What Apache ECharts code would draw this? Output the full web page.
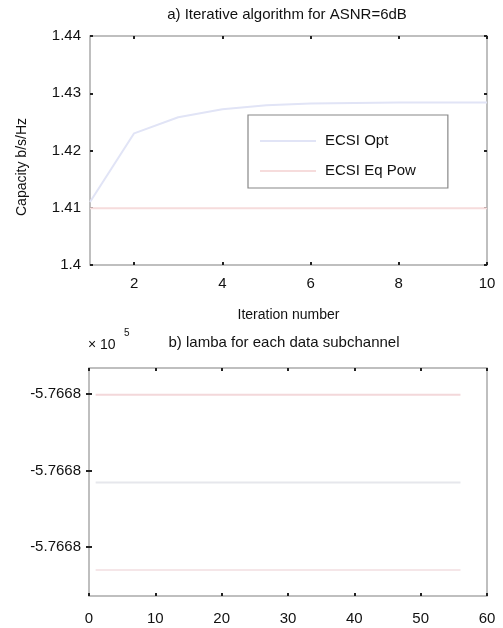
<!DOCTYPE html>
<html>
<head>
<meta charset="utf-8">
<script src="https://cdn.jsdelivr.net/npm/echarts@6/dist/echarts.min.js"></script>
<style>
  html, body { margin: 0; padding: 0; background: #fff; }
  #main { width: 503px; height: 628px; }
</style>
</head>
<body>
<div id="main"></div>
<script>
// a) capacity vs iteration
var iterations = [1, 2, 3, 4, 5, 6, 7, 8, 9, 10];
var capOpt   = [1.4110, 1.4230, 1.4258, 1.4272, 1.4279, 1.4282, 1.4283, 1.4284, 1.4284, 1.4284];
var capEqPow = [1.4099, 1.4099, 1.4099, 1.4099, 1.4099, 1.4099, 1.4099, 1.4099, 1.4099, 1.4099];
var capTicks = [1.40, 1.41, 1.42, 1.43, 1.44];
var iterTicks = [2, 4, 6, 8, 10];

// b) lambda per data subchannel (units of 1e5)
var subchannels = [1,2,3,4,5,6,7,8,9,10,11,12,13,14,15,16,17,18,19,20,21,22,23,24,25,26,27,28,
  29,30,31,32,33,34,35,36,37,38,39,40,41,42,43,44,45,46,47,48,49,50,51,52,53,54,55,56];
var lambdaA = [-5.76679602,-5.76679602,-5.76679602,-5.76679602,-5.76679602,-5.76679602,-5.76679602,-5.76679602,
  -5.76679602,-5.76679602,-5.76679602,-5.76679602,-5.76679602,-5.76679602,-5.76679602,-5.76679602,
  -5.76679602,-5.76679602,-5.76679602,-5.76679602,-5.76679602,-5.76679602,-5.76679602,-5.76679602,
  -5.76679602,-5.76679602,-5.76679602,-5.76679602,-5.76679602,-5.76679602,-5.76679602,-5.76679602,
  -5.76679602,-5.76679602,-5.76679602,-5.76679602,-5.76679602,-5.76679602,-5.76679602,-5.76679602,
  -5.76679602,-5.76679602,-5.76679602,-5.76679602,-5.76679602,-5.76679602,-5.76679602,-5.76679602,
  -5.76679602,-5.76679602,-5.76679602,-5.76679602,-5.76679602,-5.76679602,-5.76679602,-5.76679602];
var lambdaB = [-5.76679831,-5.76679831,-5.76679831,-5.76679831,-5.76679831,-5.76679831,-5.76679831,-5.76679831,
  -5.76679831,-5.76679831,-5.76679831,-5.76679831,-5.76679831,-5.76679831,-5.76679831,-5.76679831,
  -5.76679831,-5.76679831,-5.76679831,-5.76679831,-5.76679831,-5.76679831,-5.76679831,-5.76679831,
  -5.76679831,-5.76679831,-5.76679831,-5.76679831,-5.76679831,-5.76679831,-5.76679831,-5.76679831,
  -5.76679831,-5.76679831,-5.76679831,-5.76679831,-5.76679831,-5.76679831,-5.76679831,-5.76679831,
  -5.76679831,-5.76679831,-5.76679831,-5.76679831,-5.76679831,-5.76679831,-5.76679831,-5.76679831,
  -5.76679831,-5.76679831,-5.76679831,-5.76679831,-5.76679831,-5.76679831,-5.76679831,-5.76679831];
var lambdaC = [-5.76680060,-5.76680060,-5.76680060,-5.76680060,-5.76680060,-5.76680060,-5.76680060,-5.76680060,
  -5.76680060,-5.76680060,-5.76680060,-5.76680060,-5.76680060,-5.76680060,-5.76680060,-5.76680060,
  -5.76680060,-5.76680060,-5.76680060,-5.76680060,-5.76680060,-5.76680060,-5.76680060,-5.76680060,
  -5.76680060,-5.76680060,-5.76680060,-5.76680060,-5.76680060,-5.76680060,-5.76680060,-5.76680060,
  -5.76680060,-5.76680060,-5.76680060,-5.76680060,-5.76680060,-5.76680060,-5.76680060,-5.76680060,
  -5.76680060,-5.76680060,-5.76680060,-5.76680060,-5.76680060,-5.76680060,-5.76680060,-5.76680060,
  -5.76680060,-5.76680060,-5.76680060,-5.76680060,-5.76680060,-5.76680060,-5.76680060,-5.76680060];
var lambdaTicks = [-5.766796, -5.766798, -5.766800];

function pairs(xs, ys) {
  var out = [];
  for (var i = 0; i < xs.length; i++) out.push([xs[i], ys[i]]);
  return out;
}

var FONT = 'Liberation Sans';
var tick = { show: true, inside: true, length: 3, lineStyle: { color: '#222', width: 2 } };
var noLine = { show: false };

var myChart = echarts.init(document.getElementById('main'));

option = {
  backgroundColor: '#fff',
  animation: false,
  textStyle: { fontFamily: FONT },
  grid: [
    { left: 90, top: 36, width: 397, height: 229, show: true, borderColor: '#ababab', borderWidth: 1.5, backgroundColor: '#fff' },
    { left: 89, top: 368, width: 398, height: 228, show: true, borderColor: '#ababab', borderWidth: 1.5, backgroundColor: '#fff' }
  ],
  xAxis: [
    { gridIndex: 0, type: 'value', min: 1, max: 10, position: 'bottom',
      axisLine: noLine, splitLine: noLine,
      axisTick: Object.assign({ customValues: iterTicks }, tick),
      axisLabel: { customValues: iterTicks, color: '#111', fontSize: 15, fontFamily: FONT, margin: 11 },
      name: 'Iteration number', nameLocation: 'middle', nameGap: 43,
      nameTextStyle: { color: '#111', fontSize: 14, fontFamily: FONT } },
    { gridIndex: 0, type: 'value', min: 1, max: 10, position: 'top',
      axisLine: noLine, splitLine: noLine, axisLabel: { show: false },
      axisTick: Object.assign({ customValues: iterTicks }, tick) },
    { gridIndex: 1, type: 'value', min: 0, max: 60, interval: 10, position: 'bottom',
      axisLine: noLine, splitLine: noLine, axisTick: tick,
      axisLabel: { color: '#111', fontSize: 15, fontFamily: FONT, margin: 15 } },
    { gridIndex: 1, type: 'value', min: 0, max: 60, interval: 10, position: 'top',
      axisLine: noLine, splitLine: noLine, axisLabel: { show: false }, axisTick: tick }
  ],
  yAxis: [
    { gridIndex: 0, type: 'value', min: 1.4, max: 1.44, position: 'left',
      axisLine: noLine, splitLine: noLine,
      axisTick: Object.assign({ customValues: capTicks }, tick),
      axisLabel: { customValues: capTicks, color: '#111', fontSize: 15, fontFamily: FONT, margin: 9,
        formatter: function (v) { return String(+v.toFixed(2)); } } },
    { gridIndex: 0, type: 'value', min: 1.4, max: 1.44, position: 'right',
      axisLine: noLine, splitLine: noLine, axisLabel: { show: false },
      axisTick: Object.assign({ customValues: capTicks }, tick) },
    { gridIndex: 1, type: 'value', min: -5.76680128, max: -5.76679532, position: 'left',
      axisLine: noLine, splitLine: noLine,
      axisTick: Object.assign({ customValues: lambdaTicks }, tick),
      axisLabel: { customValues: lambdaTicks, color: '#111', fontSize: 15, fontFamily: FONT, margin: 8,
        formatter: function (v) { return v.toFixed(4); } } },
    { gridIndex: 1, type: 'value', min: -5.76680128, max: -5.76679532, position: 'right',
      axisLine: noLine, splitLine: noLine, axisLabel: { show: false },
      axisTick: Object.assign({ customValues: lambdaTicks }, tick) }
  ],
  legend: {
    left: 248, top: 115, orient: 'vertical',
    data: ['ECSI Opt', 'ECSI Eq Pow'],
    icon: 'rect',
    itemWidth: 56, itemHeight: 2, itemGap: 14,
    padding: [18, 32, 9, 12],
    borderColor: '#888', borderWidth: 1.2, backgroundColor: '#fff',
    textStyle: { color: '#111', fontSize: 15, fontFamily: FONT, padding: [0, 0, 0, 4], lineHeight: 16 }
  },
  graphic: [
    { type: 'text', x: 287, y: 15, style: { text: 'a) Iterative algorithm for ASNR=6dB', fill: '#111',
        font: '15px "Liberation Sans"', textAlign: 'center', textVerticalAlign: 'middle' } },
    { type: 'text', x: 22, y: 167, rotation: Math.PI / 2, style: { text: 'Capacity b/s/Hz', fill: '#111',
        font: '14px "Liberation Sans"', textAlign: 'center', textVerticalAlign: 'middle' } },
    { type: 'text', x: 88, y: 345, style: { text: '× 10', fill: '#111',
        font: '14px "Liberation Sans"', textAlign: 'left', textVerticalAlign: 'middle' } },
    { type: 'text', x: 124, y: 333, style: { text: '5', fill: '#111',
        font: '10px "Liberation Sans"', textAlign: 'left', textVerticalAlign: 'middle' } },
    { type: 'text', x: 284, y: 343, style: { text: 'b) lamba for each data subchannel', fill: '#111',
        font: '15px "Liberation Sans"', textAlign: 'center', textVerticalAlign: 'middle' } }
  ],
  series: [
    { name: 'ECSI Opt', type: 'line', xAxisIndex: 0, yAxisIndex: 0, symbol: 'none',
      lineStyle: { color: '#e1e4f6', width: 2 }, itemStyle: { color: '#e1e4f6' },
      data: pairs(iterations, capOpt) },
    { name: 'ECSI Eq Pow', type: 'line', xAxisIndex: 0, yAxisIndex: 0, symbol: 'none',
      lineStyle: { color: '#f6dcdc', width: 2 }, itemStyle: { color: '#f6dcdc' },
      data: pairs(iterations, capEqPow) },
    { name: 'lambda 1', type: 'line', xAxisIndex: 2, yAxisIndex: 2, symbol: 'none',
      lineStyle: { color: '#f3d8da', width: 2 }, data: pairs(subchannels, lambdaA) },
    { name: 'lambda 2', type: 'line', xAxisIndex: 2, yAxisIndex: 2, symbol: 'none',
      lineStyle: { color: '#e6e7ec', width: 2 }, data: pairs(subchannels, lambdaB) },
    { name: 'lambda 3', type: 'line', xAxisIndex: 2, yAxisIndex: 2, symbol: 'none',
      lineStyle: { color: '#f5e6e8', width: 2 }, data: pairs(subchannels, lambdaC) }
  ]
};

myChart.setOption(option);
window.addEventListener('resize', function () { myChart.resize(); });
</script>
</body>
</html>
